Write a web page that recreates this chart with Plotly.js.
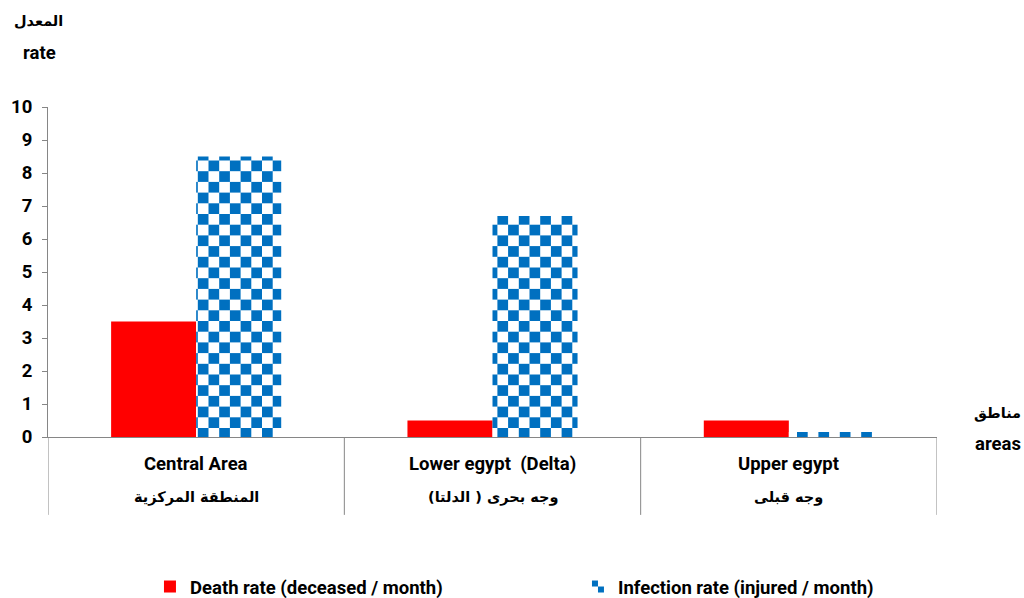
<!DOCTYPE html>
<html>
<head>
<meta charset="utf-8">
<script src="https://cdn.plot.ly/plotly-3.0.1.min.js"></script>
<style>html,body{margin:0;padding:0;background:#fff;}#chart{width:1024px;height:598px;}</style>
</head>
<body>
<div id="chart"></div>
<script>
var categories = ["Central Area", "Lower egypt  (Delta)", "Upper egypt"];
var categoriesAr = ["المنطقة المركزية", "وجه بحرى ( الدلتا)", "وجه قبلى"];
var deathRate = [3.5, 0.5, 0.5];
var infectionRate = [8.5, 6.7, 0.15];
var seriesNames = ["Death rate (deceased / month)", "Infection rate (injured / month)"];
var yTicks = [0,1,2,3,4,5,6,7,8,9,10];

var FONT = "Roboto, 'DejaVu Sans', sans-serif";
var AFONT = "'DejaVu Sans', sans-serif";
var BLUE = "#0070C0";
var SQ = 10.7;
var TXT = {family: FONT, size: 18.5, color: "#000", weight: 700};
var ATXT = {family: AFONT, size: 14.5, color: "#000", weight: 700};

var traces = [
  {type: "bar", x: categories, y: deathRate, name: seriesNames[0],
   marker: {color: "#FF0000", line: {width: 0}}},
  {type: "bar", x: categories, y: infectionRate, name: seriesNames[1],
   marker: {color: BLUE, line: {width: 0},
            pattern: {shape: "+", fgcolor: BLUE, bgcolor: "#ffffff", size: 2*SQ, solidity: 0.5, fillmode: "replace"}}}
];

var annotations = [
  {text: "<b>المعدل</b>", xref: "paper", yref: "paper", x: -0.011, y: 1.26, xanchor: "center", yanchor: "middle", showarrow: false, font: ATXT},
  {text: "<b>rate</b>", xref: "paper", yref: "paper", x: -0.009, y: 1.163, xanchor: "center", yanchor: "middle", showarrow: false, font: TXT},
  {text: "<b>مناطق</b>", xref: "paper", yref: "paper", x: 1.0963, y: 0.0727, xanchor: "right", yanchor: "middle", showarrow: false, font: ATXT},
  {text: "<b>areas</b>", xref: "paper", yref: "paper", x: 1.0963, y: -0.0212, xanchor: "right", yanchor: "middle", showarrow: false, font: TXT}
];
categories.forEach(function(c, i) {
  annotations.push({text: "<b>" + c + "</b>", xref: "x", yref: "paper", x: c, y: 0, yshift: -27, xanchor: "center", yanchor: "middle", showarrow: false, font: TXT});
  annotations.push({text: "<b>" + categoriesAr[i] + "</b>", xref: "x", yref: "paper", x: c, y: 0, yshift: -60, xanchor: "center", yanchor: "middle", showarrow: false, font: ATXT});
});

var shapes = [];
for (var k = 0; k <= categories.length; k++) {
  shapes.push({type: "line", xref: "x", yref: "paper", x0: k - 0.5, x1: k - 0.5, y0: 0, y1: -0.236, line: {color: "#868686", width: 1}});
}

var layout = {
  width: 1024, height: 598,
  margin: {l: 48, r: 87, t: 107, b: 161, autoexpand: false},
  paper_bgcolor: "#fff", plot_bgcolor: "#fff",
  barmode: "group", bargap: 0.426, bargroupgap: 0,
  showlegend: true,
  legend: {orientation: "h", x: 0.1147, xanchor: "left", y: -0.4545, yanchor: "middle",
           entrywidth: 383, entrywidthmode: "pixels",
           font: TXT, itemwidth: 30},
  xaxis: {type: "category", range: [-0.5, 2.5], showticklabels: false, ticks: "", showgrid: false, zeroline: false,
          showline: true, linecolor: "#868686", linewidth: 1, fixedrange: true},
  yaxis: {range: [0, 10], tickvals: yTicks, ticktext: yTicks.map(String), ticks: "outside", ticklen: 5, tickcolor: "#868686",
          showgrid: false, zeroline: false, showline: true, linecolor: "#868686", linewidth: 1,
          tickfont: TXT, ticklabelstandoff: 6, fixedrange: true},
  annotations: annotations,
  shapes: shapes
};

var NS = "http://www.w3.org/2000/svg";
function checker() {
  var pats = document.querySelectorAll("#chart pattern");
  pats.forEach(function(p) {
    if (p.getAttribute("data-checker")) return;
    p.setAttribute("data-checker", "1");
    while (p.firstChild) p.removeChild(p.firstChild);
    p.setAttribute("width", 2*SQ);
    p.setAttribute("height", 2*SQ);
    p.removeAttribute("patternTransform");
    var bg = document.createElementNS(NS, "rect");
    bg.setAttribute("x", 0); bg.setAttribute("y", 0);
    bg.setAttribute("width", 2*SQ); bg.setAttribute("height", 2*SQ);
    bg.setAttribute("fill", "#ffffff");
    p.appendChild(bg);
    [[0,0],[SQ,SQ]].forEach(function(o) {
      var r = document.createElementNS(NS, "rect");
      r.setAttribute("x", o[0]); r.setAttribute("y", o[1]);
      r.setAttribute("width", SQ); r.setAttribute("height", SQ);
      r.setAttribute("fill", BLUE);
      p.appendChild(r);
    });
  });
}

Plotly.newPlot("chart", traces, layout, {displayModeBar: false, staticPlot: true}).then(function(gd) {
  checker();
  gd.on("plotly_afterplot", checker);
});
</script>
</body>
</html>
